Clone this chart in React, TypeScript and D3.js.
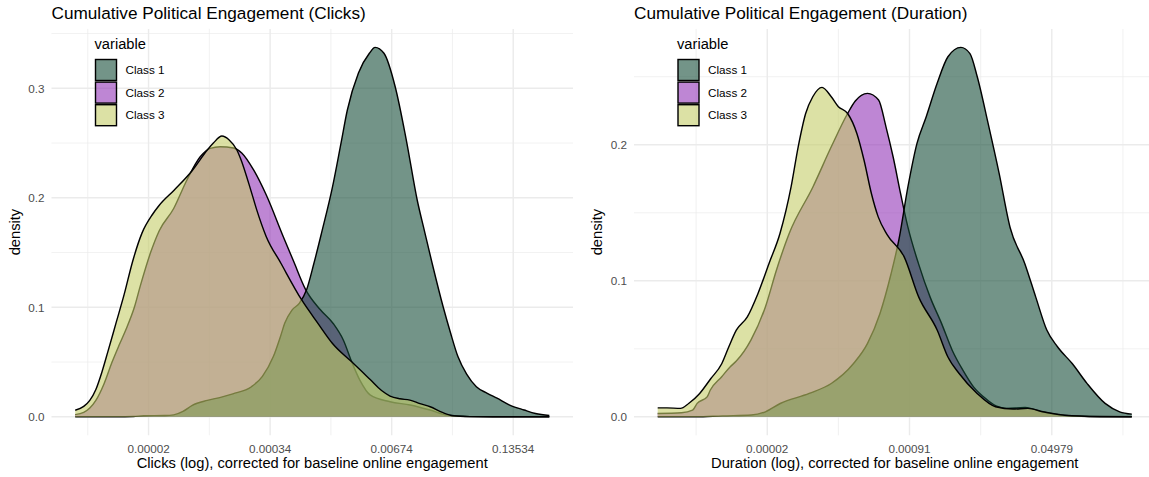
import React from "react";
import * as d3 from "d3";

type Pt = [number, number];

// Series names, fills and the order the layers are painted in
const classNames = ["Class 1", "Class 2", "Class 3"];
const classFills = ["#164D39", "#9335B7", "#C5CD69"];
const paintOrder = [1, 0, 2];
const fillAlpha = 0.6;

// Density of log(clicks), per class: [log value, density]
const clicksClass1: Pt[] = [
  [-12.81, 0.0], [-11.8, 0.0], [-11.37, 0.0003], [-11.12, 0.001], [-10.6, 0.0012],
  [-10.38, 0.0018], [-10.15, 0.005], [-9.92, 0.0105], [-9.55, 0.015], [-9.2, 0.018],
  [-8.92, 0.021], [-8.46, 0.0275], [-8.19, 0.037], [-7.92, 0.055], [-7.73, 0.075],
  [-7.64, 0.0854], [-7.46, 0.0975], [-7.28, 0.1036], [-7.1, 0.116], [-6.92, 0.14],
  [-6.73, 0.168], [-6.46, 0.21], [-6.25, 0.25], [-6.095, 0.28], [-5.82, 0.314],
  [-5.55, 0.332], [-5.41, 0.3374], [-5.19, 0.332], [-4.91, 0.301], [-4.64, 0.253],
  [-4.37, 0.198], [-4.18, 0.168], [-4.0, 0.14], [-3.73, 0.1005], [-3.55, 0.077],
  [-3.365, 0.055], [-3.15, 0.039], [-2.91, 0.0275], [-2.64, 0.0215], [-2.4, 0.017],
  [-2.1, 0.011], [-1.73, 0.0062], [-1.45, 0.003], [-1.11, 0.0012],
];
const clicksClass2: Pt[] = [
  [-12.81, 0.002], [-12.6, 0.004], [-12.45, 0.008], [-12.3, 0.015], [-12.1, 0.03],
  [-11.9, 0.05], [-11.72, 0.066], [-11.555, 0.08], [-11.35, 0.1], [-11.2, 0.12],
  [-10.95, 0.15], [-10.736, 0.17], [-10.383, 0.19], [-10.053, 0.2163], [-9.725, 0.2375],
  [-9.478, 0.2452], [-9.232, 0.2467], [-8.904, 0.2455], [-8.7, 0.241], [-8.4, 0.225],
  [-8.1, 0.203], [-7.68, 0.165], [-7.42, 0.142], [-7.12, 0.116], [-6.765, 0.098],
  [-6.438, 0.085], [-6.191, 0.07], [-5.984, 0.05], [-5.779, 0.033], [-5.533, 0.02],
  [-5.039, 0.0138], [-4.546, 0.0108], [-4.053, 0.0062], [-3.634, 0.0016], [-3.07, 0.0002],
  [-2.5, 0.0], [-1.11, 0.0],
];
const clicksClass3: Pt[] = [
  [-12.81, 0.006], [-12.6, 0.0095], [-12.45, 0.015], [-12.3, 0.025], [-12.15, 0.041],
  [-12.0, 0.06], [-11.8, 0.086], [-11.6, 0.112], [-11.4, 0.141], [-11.16, 0.168],
  [-10.9, 0.185], [-10.74, 0.193], [-10.37, 0.207], [-9.92, 0.225], [-9.55, 0.2437],
  [-9.4, 0.25], [-9.19, 0.2564], [-9.01, 0.2528], [-8.82, 0.2437], [-8.73, 0.236],
  [-8.46, 0.205], [-8.33, 0.189], [-8.1, 0.165], [-7.73, 0.14], [-7.22, 0.1067],
  [-6.82, 0.0854], [-6.46, 0.067], [-5.98, 0.05], [-5.78, 0.043], [-5.53, 0.034],
  [-5.25, 0.024], [-5.04, 0.019], [-4.8, 0.0165], [-4.55, 0.0153], [-4.3, 0.012],
  [-4.05, 0.0092], [-3.75, 0.004], [-3.49, 0.001], [-3.07, 0.0002], [-2.5, 0.0],
  [-1.11, 0.0],
];

// Density of log(duration), per class
const durationClass1: Pt[] = [
  [-14.08, 0.0], [-13.0, 0.0], [-12.26, 0.0007], [-11.45, 0.0013], [-11.05, 0.0037],
  [-10.635, 0.0098], [-9.82, 0.0172], [-9.2, 0.0245], [-8.58, 0.039], [-8.18, 0.054],
  [-7.83, 0.076], [-7.52, 0.105], [-7.3, 0.13], [-7.045, 0.169], [-6.79, 0.201],
  [-6.53, 0.2206], [-6.225, 0.245], [-5.92, 0.2647], [-5.556, 0.2716], [-5.3, 0.267],
  [-5.095, 0.25], [-4.79, 0.2157], [-4.48, 0.179], [-4.17, 0.139], [-3.76, 0.1128],
  [-3.45, 0.088], [-3.14, 0.0638], [-2.84, 0.0515], [-2.42, 0.039], [-2.01, 0.0246],
  [-1.5, 0.0099], [-1.09, 0.0037], [-0.75, 0.002],
];
const durationClass2: Pt[] = [
  [-14.08, 0.0025], [-13.41, 0.003], [-13.1, 0.0049], [-12.97, 0.0099], [-12.69, 0.0147],
  [-12.6, 0.0197], [-12.28, 0.0295], [-12.04, 0.0368], [-11.87, 0.041], [-11.46, 0.0564],
  [-11.05, 0.081], [-10.74, 0.108], [-10.38, 0.135], [-9.716, 0.169], [-9.2, 0.1985],
  [-8.74, 0.223], [-8.53, 0.232], [-8.18, 0.2378], [-7.87, 0.2329], [-7.66, 0.213],
  [-7.46, 0.191], [-7.25, 0.164], [-7.05, 0.14], [-6.75, 0.1128], [-6.42, 0.088],
  [-6.1, 0.0687], [-5.8, 0.049], [-5.5, 0.0343], [-5.2, 0.022], [-4.92, 0.0147],
  [-4.55, 0.0078], [-4.28, 0.0062], [-3.75, 0.0068], [-3.25, 0.0035], [-2.63, 0.001],
  [-1.65, 0.0001], [-0.75, 0.0],
];
const durationClass3: Pt[] = [
  [-14.08, 0.0066], [-13.82, 0.0066], [-13.44, 0.0062], [-13.21, 0.0098], [-12.9, 0.0172],
  [-12.59, 0.028], [-12.28, 0.039], [-12.08, 0.0515], [-11.87, 0.0637], [-11.56, 0.0735],
  [-11.26, 0.0907], [-10.95, 0.1128], [-10.64, 0.135], [-10.33, 0.169], [-10.13, 0.1985],
  [-9.92, 0.223], [-9.72, 0.2353], [-9.46, 0.2422], [-9.2, 0.2353], [-9.0, 0.228],
  [-8.74, 0.223], [-8.48, 0.2083], [-8.28, 0.1888], [-8.07, 0.164], [-7.88, 0.147],
  [-7.63, 0.134], [-7.15, 0.1176], [-6.74, 0.088], [-6.22, 0.0637], [-5.92, 0.044],
  [-5.61, 0.032], [-5.1, 0.0172], [-4.58, 0.0074], [-4.09, 0.0057], [-3.67, 0.0062],
  [-3.25, 0.0037], [-2.63, 0.0012], [-1.65, 0.0002], [-0.75, 0.0],
];

// Axis breaks (log scale) and their labels
const clicksXBreaks = [-11, -8, -5, -2];
const clicksXLabels = ["0.00002", "0.00034", "0.00674", "0.13534"];
const clicksXMinor = [-12.5, -9.5, -6.5, -3.5, -0.5];
const clicksYBreaks = [0, 0.1, 0.2, 0.3];
const clicksYLabels = ["0.0", "0.1", "0.2", "0.3"];
const clicksYMinor = [0.05, 0.15, 0.25, 0.35];

const durationXBreaks = [-11, -7, -3];
const durationXLabels = ["0.00002", "0.00091", "0.04979"];
const durationXMinor = [-13, -9, -5, -1];
const durationYBreaks = [0, 0.1, 0.2];
const durationYLabels = ["0.0", "0.1", "0.2"];
const durationYMinor = [0.05, 0.15, 0.25];

const FONT = "'Liberation Sans', Arial, Helvetica, sans-serif";
const GRID = "#EBEBEB";

interface PanelProps {
  left: number;
  title: string;
  xTitle: string;
  series: Pt[][];
  xBreaks: number[];
  xLabels: string[];
  xMinor: number[];
  yBreaks: number[];
  yLabels: string[];
  yMinor: number[];
}

const PANEL_W = 521.5;
const PANEL_TOP = 28.9;
const PANEL_BOTTOM = 435.3;

function Panel(p: PanelProps) {
  const all = p.series.flat();
  const [xMin, xMax] = d3.extent(all, (d) => d[0]) as [number, number];
  const yMax = d3.max(all, (d) => d[1]) as number;
  const xPad = (xMax - xMin) * 0.05;
  const yPad = yMax * 0.05;
  const x = d3.scaleLinear().domain([xMin - xPad, xMax + xPad]).range([p.left, p.left + PANEL_W]);
  const y = d3.scaleLinear().domain([-yPad, yMax + yPad]).range([PANEL_BOTTOM, PANEL_TOP]);
  const [d0, d1] = x.domain();
  const [e0, e1] = y.domain();
  const inX = (v: number) => v >= d0 && v <= d1;
  const inY = (v: number) => v >= e0 && v <= e1;

  const area = d3
    .area<Pt>()
    .x((d) => x(d[0]))
    .y0(y(0))
    .y1((d) => y(d[1]))
    .curve(d3.curveMonotoneX);
  const line = d3
    .line<Pt>()
    .x((d) => x(d[0]))
    .y((d) => y(d[1]))
    .curve(d3.curveMonotoneX);

  const right = p.left + PANEL_W;
  const legendX = p.left + 44;

  return (
    <g>
      {/* grid */}
      {p.yMinor.filter(inY).map((v) => (
        <line key={"ym" + v} x1={p.left} x2={right} y1={y(v)} y2={y(v)} stroke={GRID} strokeWidth={0.71} />
      ))}
      {p.xMinor.filter(inX).map((v) => (
        <line key={"xm" + v} x1={x(v)} x2={x(v)} y1={PANEL_TOP} y2={PANEL_BOTTOM} stroke={GRID} strokeWidth={0.71} />
      ))}
      {p.yBreaks.map((v) => (
        <line key={"yb" + v} x1={p.left} x2={right} y1={y(v)} y2={y(v)} stroke={GRID} strokeWidth={1.42} />
      ))}
      {p.xBreaks.map((v) => (
        <line key={"xb" + v} x1={x(v)} x2={x(v)} y1={PANEL_TOP} y2={PANEL_BOTTOM} stroke={GRID} strokeWidth={1.42} />
      ))}

      {/* densities */}
      {paintOrder.map((i) => (
        <g key={"s" + i}>
          <path d={area(p.series[i]) || ""} fill={classFills[i]} fillOpacity={fillAlpha} stroke="none" />
          <path d={line(p.series[i]) || ""} fill="none" stroke="#000" strokeWidth={1.42} strokeLinejoin="round" />
        </g>
      ))}

      {/* axes text */}
      {p.yBreaks.map((v, i) => (
        <text key={"yl" + v} x={p.left - 7} y={y(v) + 4.2} textAnchor="end" fontSize={11.7} fill="#4D4D4D" fontFamily={FONT}>
          {p.yLabels[i]}
        </text>
      ))}
      {p.xBreaks.map((v, i) => (
        <text key={"xl" + v} x={x(v)} y={452.5} textAnchor="middle" fontSize={11.7} fill="#4D4D4D" fontFamily={FONT}>
          {p.xLabels[i]}
        </text>
      ))}
      <text x={(p.left + right) / 2} y={467.5} textAnchor="middle" fontSize={14.7} fill="#000" fontFamily={FONT}>
        {p.xTitle}
      </text>
      <text
        transform={`translate(${p.left - 32},${(PANEL_TOP + PANEL_BOTTOM) / 2}) rotate(-90)`}
        textAnchor="middle"
        fontSize={14.7}
        fill="#000"
        fontFamily={FONT}
      >
        density
      </text>
      <text x={p.left} y={19} fontSize={17.2} fill="#000" fontFamily={FONT}>
        {p.title}
      </text>

      {/* legend */}
      <text x={legendX - 1} y={49} fontSize={14.7} fill="#000" fontFamily={FONT}>
        variable
      </text>
      {classNames.map((name, i) => {
        const ky = 59.5 + i * 22.6;
        return (
          <g key={name}>
            <rect x={legendX} y={ky} width={21} height={21} fill={classFills[i]} fillOpacity={fillAlpha} stroke="#000" strokeWidth={1.42} />
            <text x={legendX + 30} y={ky + 14.6} fontSize={11.7} fill="#000" fontFamily={FONT}>
              {name}
            </text>
          </g>
        );
      })}
    </g>
  );
}

export default function App() {
  return (
    <svg
      width={1149}
      height={477}
      style={{ position: "absolute", left: 0, top: 0, display: "block", background: "#fff" }}
    >
      <rect x={0} y={0} width={1149} height={477} fill="#fff" />
      <Panel
        left={51.5}
        title="Cumulative Political Engagement (Clicks)"
        xTitle="Clicks (log), corrected for baseline online engagement"
        series={[clicksClass1, clicksClass2, clicksClass3]}
        xBreaks={clicksXBreaks}
        xLabels={clicksXLabels}
        xMinor={clicksXMinor}
        yBreaks={clicksYBreaks}
        yLabels={clicksYLabels}
        yMinor={clicksYMinor}
      />
      <Panel
        left={634}
        title="Cumulative Political Engagement (Duration)"
        xTitle="Duration (log), corrected for baseline online engagement"
        series={[durationClass1, durationClass2, durationClass3]}
        xBreaks={durationXBreaks}
        xLabels={durationXLabels}
        xMinor={durationXMinor}
        yBreaks={durationYBreaks}
        yLabels={durationYLabels}
        yMinor={durationYMinor}
      />
    </svg>
  );
}
